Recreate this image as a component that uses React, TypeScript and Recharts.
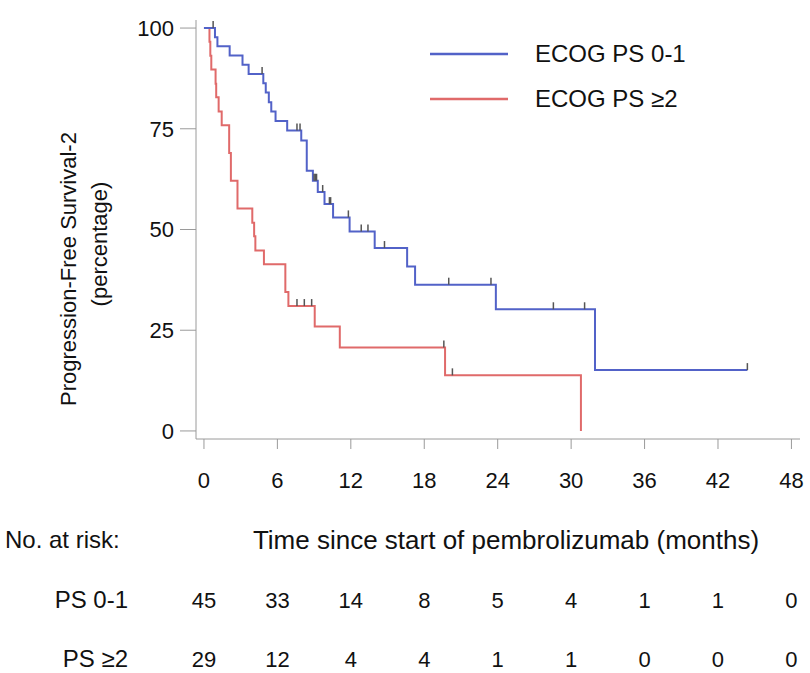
import React from "react";
import { ComposedChart, Line, Scatter, XAxis, YAxis } from "recharts";

// Kaplan-Meier steps (time in months, survival in %).
const ps01Steps = [
  { t: 0, s: 100 },
  { t: 0.9, s: 97.7 },
  { t: 1.1, s: 95.5 },
  { t: 2.1, s: 93.2 },
  { t: 3.15, s: 90.9 },
  { t: 3.65, s: 88.6 },
  { t: 4.85, s: 86.3 },
  { t: 5.05, s: 84.0 },
  { t: 5.3, s: 81.6 },
  { t: 5.5, s: 79.3 },
  { t: 5.85, s: 76.9 },
  { t: 6.8, s: 74.6 },
  { t: 7.95, s: 72.1 },
  { t: 8.4, s: 64.6 },
  { t: 8.9, s: 62.1 },
  { t: 9.3, s: 59.3 },
  { t: 9.85, s: 56.3 },
  { t: 10.55, s: 53.0 },
  { t: 11.9, s: 49.5 },
  { t: 13.95, s: 45.4 },
  { t: 16.6, s: 40.8 },
  { t: 17.25, s: 36.3 },
  { t: 23.85, s: 30.2 },
  { t: 31.95, s: 15.1 },
  { t: 44.4, s: 15.1 },
];

const ps01Censored = [
  { t: 0.75, s: 100 },
  { t: 4.75, s: 88.6 },
  { t: 7.6, s: 74.6 },
  { t: 7.85, s: 74.6 },
  { t: 9.0, s: 62.1 },
  { t: 9.1, s: 62.1 },
  { t: 9.2, s: 62.1 },
  { t: 9.7, s: 59.3 },
  { t: 10.25, s: 56.3 },
  { t: 10.35, s: 56.3 },
  { t: 11.8, s: 53.0 },
  { t: 12.85, s: 49.5 },
  { t: 13.4, s: 49.5 },
  { t: 14.75, s: 45.4 },
  { t: 20.0, s: 36.3 },
  { t: 23.45, s: 36.3 },
  { t: 28.55, s: 30.2 },
  { t: 31.1, s: 30.2 },
  { t: 44.4, s: 15.1 },
];

const ps2Steps = [
  { t: 0, s: 100 },
  { t: 0.45, s: 96.6 },
  { t: 0.52, s: 93.1 },
  { t: 0.6, s: 89.7 },
  { t: 0.95, s: 86.2 },
  { t: 1.0, s: 82.8 },
  { t: 1.2, s: 79.3 },
  { t: 1.45, s: 75.9 },
  { t: 2.06, s: 69.0 },
  { t: 2.2, s: 62.1 },
  { t: 2.74, s: 55.2 },
  { t: 3.95, s: 51.7 },
  { t: 4.1, s: 48.3 },
  { t: 4.2, s: 44.8 },
  { t: 4.9, s: 41.4 },
  { t: 6.65, s: 34.5 },
  { t: 6.9, s: 31.0 },
  { t: 9.05, s: 25.9 },
  { t: 11.1, s: 20.7 },
  { t: 19.7, s: 13.8 },
  { t: 30.8, s: 0 },
];

const ps2Censored = [
  { t: 7.6, s: 31.0 },
  { t: 8.2, s: 31.0 },
  { t: 8.8, s: 31.0 },
  { t: 19.6, s: 20.7 },
  { t: 20.3, s: 13.8 },
];

const timeTicks = [0, 6, 12, 18, 24, 30, 36, 42, 48];
const atRiskPs01 = [45, 33, 14, 8, 5, 4, 1, 1, 0];
const atRiskPs2 = [29, 12, 4, 4, 1, 1, 0, 0, 0];
const survivalTicks = [0, 25, 50, 75, 100];

const BLUE = "#5262c8";
const RED = "#e06a6a";
const AXIS = "#9a9a9a";
const FONT = "'Liberation Sans', Arial, sans-serif";

function CensorMark({ cx, cy }: { cx?: number; cy?: number }) {
  if (cx == null || cy == null) return null;
  return <line x1={cx} y1={cy} x2={cx} y2={cy - 7} stroke="#555" strokeWidth={1.5} />;
}

function TimeTick({ x, y, payload }: { x?: number; y?: number; payload?: { value: number } }) {
  const i = timeTicks.indexOf(payload!.value);
  return (
    <g fontFamily={FONT} fontSize={22} fill="#111" textAnchor="middle">
      <text x={x} y={y! + 37}>{payload!.value}</text>
      <text x={x} y={y! + 157}>{atRiskPs01[i]}</text>
      <text x={x} y={y! + 216}>{atRiskPs2[i]}</text>
    </g>
  );
}

function TimeLabel({ viewBox }: { viewBox?: { x: number; y: number; width: number } }) {
  const vb = viewBox!;
  return (
    <g fontFamily={FONT} fill="#111">
      <text x={5} y={vb.y + 109} fontSize={24}>No. at risk:</text>
      <text x={vb.x + 310} y={vb.y + 110} fontSize={26} textAnchor="middle">
        Time since start of pembrolizumab (months)
      </text>
      <text x={128} y={vb.y + 169} fontSize={24} textAnchor="end">PS 0-1</text>
      <text x={128} y={vb.y + 228} fontSize={24} textAnchor="end">PS ≥2</text>
    </g>
  );
}

function SurvivalLabel() {
  return (
    <g fontFamily={FONT} fontSize={22} fill="#111" textAnchor="middle">
      <text x={68} y={269} transform="rotate(-90 68 269)" dominantBaseline="central">
        Progression-Free Survival-2
      </text>
      <text x={99} y={244} transform="rotate(-90 99 244)" dominantBaseline="central">
        (percentage)
      </text>
    </g>
  );
}

const legendRows = [
  { name: "ECOG PS 0-1", color: BLUE },
  { name: "ECOG PS ≥2", color: RED },
];

function ChartLegend() {
  return (
    <div
      style={{
        position: "absolute",
        left: 430,
        top: 31,
        fontFamily: FONT,
        fontSize: 24,
        color: "#111",
      }}
    >
      {legendRows.map((r) => (
        <div key={r.name} style={{ display: "flex", alignItems: "center", height: 45 }}>
          <svg width={105} height={10} style={{ flex: "none" }}>
            <line x1={0} y1={5} x2={78} y2={5} stroke={r.color} strokeWidth={2.5} />
          </svg>
          <span style={{ whiteSpace: "nowrap" }}>{r.name}</span>
        </div>
      ))}
    </div>
  );
}

export default function App() {
  return (
    <div style={{ position: "absolute", left: 0, top: 0, width: 810, height: 673, background: "#fff" }}>
      <ComposedChart width={810} height={673} margin={{ top: 20, right: 10, left: 0, bottom: 0 }}>
        <XAxis
          type="number"
          dataKey="t"
          domain={[-0.65, 48.7]}
          ticks={timeTicks}
          allowDataOverflow
          height={234}
          tickSize={10}
          stroke={AXIS}
          tick={<TimeTick />}
          label={<TimeLabel />}
        />
        <YAxis
          type="number"
          dataKey="s"
          domain={[-2, 102]}
          ticks={survivalTicks}
          width={196}
          tickSize={16}
          tickMargin={6}
          stroke={AXIS}
          tick={{ fontSize: 22, fill: "#111", fontFamily: FONT }}
          label={<SurvivalLabel />}
        />
        <Line
          data={ps2Steps}
          dataKey="s"
          type="stepAfter"
          stroke={RED}
          strokeWidth={2}
          dot={false}
          isAnimationActive={false}
        />
        <Line
          data={ps01Steps}
          dataKey="s"
          type="stepAfter"
          stroke={BLUE}
          strokeWidth={2}
          dot={false}
          isAnimationActive={false}
        />
        <Scatter data={ps2Censored} dataKey="s" shape={<CensorMark />} isAnimationActive={false} />
        <Scatter data={ps01Censored} dataKey="s" shape={<CensorMark />} isAnimationActive={false} />
      </ComposedChart>
      <ChartLegend />
    </div>
  );
}
